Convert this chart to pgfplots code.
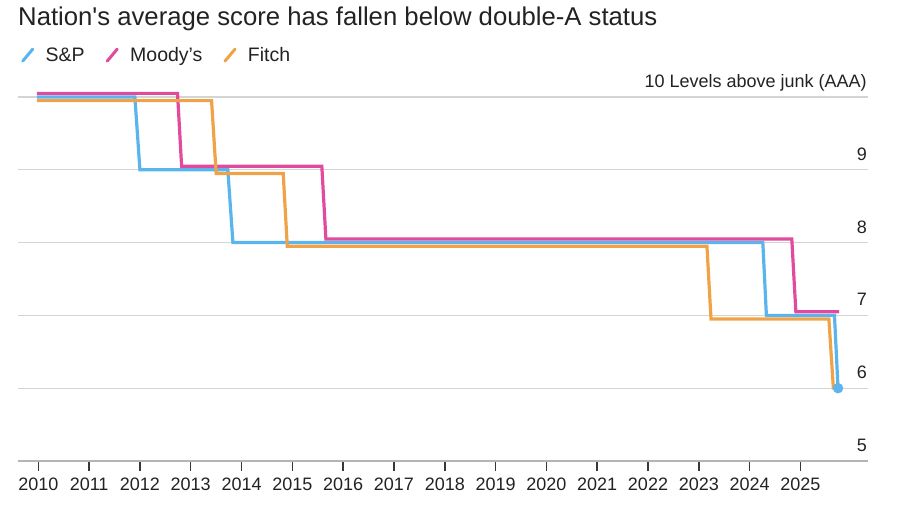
\documentclass[border=0pt]{standalone}
\usepackage{fontspec}
\setmainfont{Liberation Sans}
\usepackage{pgfplots}
\pgfplotsset{compat=1.18}

\definecolor{spblue}{HTML}{5AB4EE}
\definecolor{moodys}{HTML}{E24A9E}
\definecolor{fitch}{HTML}{F0A248}
\definecolor{gridgray}{HTML}{D4D4D4}
\definecolor{inkk}{HTML}{222222}

% S&P sits on the level, Moody's a hair above, Fitch a hair below
\pgfplotstableread{
x       y
2009.97 10
2011.90 10
2012.00 9
2013.73 9
2013.83 8
2024.26 8
2024.33 7
2025.67 7
2025.74 6
}\sandp
\pgfplotstableread{
x       y
2009.97 10.05
2012.74 10.05
2012.82 9.05
2015.58 9.05
2015.66 8.05
2024.83 8.05
2024.91 7.05
2025.76 7.05
}\moodys
\pgfplotstableread{
x       y
2009.97 9.95
2013.41 9.95
2013.50 8.95
2014.82 8.95
2014.90 7.95
2023.16 7.95
2023.24 6.95
2025.56 6.95
2025.65 5.98
}\fitch

\begin{document}
\begin{tikzpicture}
\path[use as bounding box] (-18pt,-49pt) rectangle (882pt,461pt);
\begin{axis}[
    scale only axis,
    width=850pt, height=364pt,
    xmin=2009.6, xmax=2026.33,
    ymin=5, ymax=10,
    clip=false,
    axis x line*=bottom,
    axis y line*=right,
    x axis line style={-, draw=gridgray!85!black, line width=1.2pt},
    y axis line style={draw=none},
    xtick={2010,2011,...,2025},
    ytick={5,6,7,8,9,10},
    yticklabels={5,6,7,8,9,10 Levels above junk (AAA)},
    ymajorgrids,
    grid style={draw=gridgray, line width=1.2pt},
    major x tick style={draw=inkk!90, line width=1.5pt},
    major y tick style={draw=none},
    tick align=outside,
    major tick length=10pt,
    /pgf/number format/1000 sep={},
    /pgf/number format/assume math mode=true,
    ticklabel style={font=\fontsize{18}{20}\selectfont, text=inkk},
    xticklabel style={anchor=base, inner sep=0pt, yshift=-20pt},
    yticklabel style={anchor=base east, inner sep=0pt, xshift=-11pt, yshift=9.5pt},
    legend columns=-1,
    legend style={draw=none, fill=none, at={(axis description cs:0,1.115)}, anchor=west,
        font=\fontsize{19.5}{22}\selectfont, text=inkk,
        /tikz/every even column/.append style={column sep=19pt},
        cells={anchor=west}},
    legend image code/.code={
        \draw[line width=3pt, line cap=round, #1] (0pt,-6pt) -- (10pt,6pt);
        \path[draw=none] (0pt,0pt) (21pt,0pt);
    },
]
\addplot[spblue, line width=3.2pt] table[x=x, y=y] {\sandp};
\addlegendentry{S\&P}
\addplot[moodys, line width=3.2pt] table[x=x, y=y] {\moodys};
\addlegendentry{Moody’s}
\addplot[fitch, line width=3.2pt] table[x=x, y=y] {\fitch};
\addlegendentry{Fitch}
\addplot[spblue, only marks, mark=*, mark size=5pt, forget plot] coordinates {(2025.74,6)};
\end{axis}
\node[anchor=base west, inner sep=0pt, font=\fontsize{25.7}{28}\selectfont, text=inkk] at (0pt,435pt)
    {Nation\textquotesingle s average score has fallen below double-A status};
\end{tikzpicture}
\end{document}
